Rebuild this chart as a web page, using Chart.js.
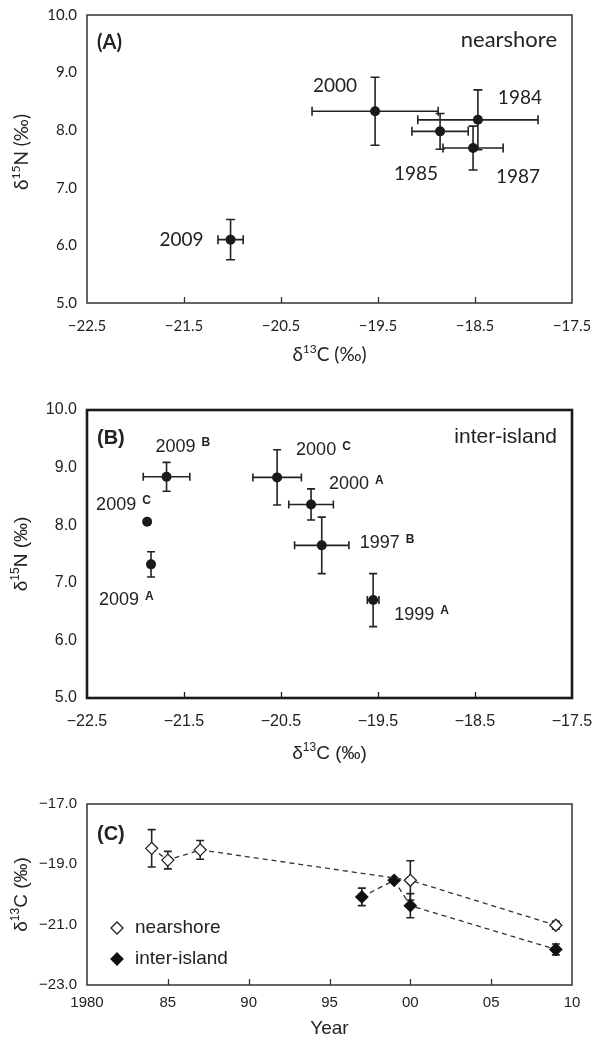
<!DOCTYPE html>
<html>
<head>
<meta charset="utf-8">
<title>Isotope panels</title>
<script src="https://cdn.jsdelivr.net/npm/chart.js@4.4.1/dist/chart.umd.min.js"></script>
<style>
  html, body { margin: 0; padding: 0; background: #fff; }
  .panel { position: absolute; left: 0; width: 598px; }
  #wrapA { top: 0; height: 375px; }
  #wrapB { top: 375px; height: 395px; }
  #wrapC { top: 770px; height: 273px; }
</style>
</head>
<body>
<div class="panel" id="wrapA"><canvas id="chartA"></canvas></div>
<div class="panel" id="wrapB"><canvas id="chartB"></canvas></div>
<div class="panel" id="wrapC"><canvas id="chartC"></canvas></div>

<script>
// (A) nearshore: d13C / d15N means with SD
const nsYears = [1984, 1985, 1987, 2000, 2009];
const nsC     = [-18.47, -18.86, -18.52, -19.53, -21.02];
const nsCErr  = [0.62, 0.29, 0.31, 0.65, 0.13];
const nsN     = [8.18, 7.98, 7.69, 8.33, 6.10];
const nsNErr  = [0.52, 0.31, 0.38, 0.59, 0.35];

// (B) inter-island, by year and site
const ibYears = ["2009", "2009", "2009", "2000", "2000", "1997", "1999"];
const ibSites = ["B", "C", "A", "C", "A", "B", "A"];
const ibC     = [-21.68, -21.88, -21.84, -20.54, -20.19, -20.08, -19.55];
const ibCErr  = [0.24, 0, 0, 0.25, 0.23, 0.28, 0.06];
const ibN     = [8.84, 8.06, 7.32, 8.83, 8.36, 7.65, 6.70];
const ibNErr  = [0.25, 0, 0.22, 0.48, 0.27, 0.49, 0.46];

// (C) d13C through time, inter-island pooled per year
const ibMeanYears = [1997, 1999, 2000, 2009];
const ibMeanC     = [-20.08, -19.53, -20.37, -21.82];
const ibMeanCErr  = [0.29, 0.05, 0.40, 0.18];

// tick labels
const isoTicks = [-22.5, -21.5, -20.5, -19.5, -18.5, -17.5];
const nTicks = [5, 6, 7, 8, 9, 10];
const cTicks = [-23, -21, -19, -17];
const yearTicks = [1980, 1985, 1990, 1995, 2000, 2005, 2010];
const yearTickLabels = ["1980", "85", "90", "95", "00", "05", "10"];

const ink = "#222";
const fontA = "Lato, 'Open Sans', sans-serif";
const fontB = "'Liberation Sans', Arial, sans-serif";

function fmtIso(v) {
    return (v < 0 ? "\u2212" : "") + Math.abs(v).toFixed(1);
}

function fixedTicks(values) {
    return scale => { scale.ticks = values.map(v => ({ value: v })); };
}

function drawRich(ctx, parts, x, y, font, supFont, rotated) {
    ctx.save();
    ctx.translate(x, y);
    if (rotated) ctx.rotate(-Math.PI / 2);
    ctx.textBaseline = "middle";
    ctx.textAlign = "left";
    let w = 0;
    parts.forEach(p => { ctx.font = p.sup ? supFont : font; w += ctx.measureText(p.t).width; });
    let cx = -w / 2;
    parts.forEach(p => {
        ctx.font = p.sup ? supFont : font;
        ctx.fillText(p.t, cx, p.sup ? -6 : 0);
        cx += ctx.measureText(p.t).width;
    });
    ctx.restore();
}

const errorBars = {
    id: "errorBars",
    beforeDatasetsDraw(chart) {
        const ctx = chart.ctx, xs = chart.scales.x, ys = chart.scales.y;
        chart.data.datasets.forEach(ds => {
            if (!ds.xErr && !ds.yErr) return;
            const cap = ds.capSize || 4.5;
            ctx.save();
            ctx.strokeStyle = ink;
            ctx.lineWidth = 1.6;
            ds.data.forEach((p, i) => {
                const px = xs.getPixelForValue(p.x), py = ys.getPixelForValue(p.y);
                const ex = ds.xErr ? ds.xErr[i] : 0, ey = ds.yErr ? ds.yErr[i] : 0;
                ctx.beginPath();
                if (ex > 0) {
                    const l = xs.getPixelForValue(p.x - ex), r = xs.getPixelForValue(p.x + ex);
                    ctx.moveTo(l, py); ctx.lineTo(r, py);
                    ctx.moveTo(l, py - cap); ctx.lineTo(l, py + cap);
                    ctx.moveTo(r, py - cap); ctx.lineTo(r, py + cap);
                }
                if (ey > 0) {
                    const t = ys.getPixelForValue(p.y + ey), b = ys.getPixelForValue(p.y - ey);
                    ctx.moveTo(px, t); ctx.lineTo(px, b);
                    ctx.moveTo(px - cap, t); ctx.lineTo(px + cap, t);
                    ctx.moveTo(px - cap, b); ctx.lineTo(px + cap, b);
                }
                ctx.stroke();
            });
            ctx.restore();
        });
    }
};

// box around the plot, inward ticks on the x axis, titles and tags
const decor = {
    id: "decor",
    afterDatasetsDraw(chart, args, o) {
        const ctx = chart.ctx, a = chart.chartArea, xs = chart.scales.x;
        ctx.save();
        ctx.strokeStyle = o.frameColor;
        ctx.lineWidth = o.frameWidth;
        ctx.strokeRect(a.left, a.top, a.right - a.left, a.bottom - a.top);
        ctx.lineWidth = 1.3;
        ctx.beginPath();
        xs.ticks.forEach((t, i) => {
            if (i === 0 || i === xs.ticks.length - 1) return;
            const px = Math.round(xs.getPixelForValue(t.value)) + 0.5;
            ctx.moveTo(px, a.bottom);
            ctx.lineTo(px, a.bottom - 6);
        });
        ctx.stroke();

        ctx.fillStyle = ink;
        ctx.textBaseline = "middle";
        ctx.textAlign = "left";
        ctx.font = o.tagFont;
        ctx.fillText(o.tag, a.left + 10, a.top + o.tagDy);
        if (o.corner) {
            ctx.textAlign = "right";
            ctx.font = o.cornerFont;
            ctx.fillText(o.corner, a.right - 15, a.top + o.cornerDy);
        }
        const midX = (a.left + a.right) / 2;
        drawRich(ctx, o.xTitle, midX, a.bottom + o.xTitleDy, o.titleFont, o.supFont, false);
        drawRich(ctx, o.yTitle, 22, (a.top + a.bottom) / 2 + o.yTitleDy, o.titleFont, o.supFont, true);

        if (o.legend) {
            o.legend.forEach((item, k) => {
                const ds = chart.data.datasets[item.index];
                const y = a.top + o.legendTop + k * o.legendStep;
                const x = a.left + 30;
                ctx.beginPath();
                ctx.moveTo(x - 6, y); ctx.lineTo(x, y - 6); ctx.lineTo(x + 6, y); ctx.lineTo(x, y + 6);
                ctx.closePath();
                ctx.fillStyle = ds.pointBackgroundColor;
                ctx.fill();
                ctx.lineWidth = 1.3;
                ctx.strokeStyle = ds.pointBorderColor;
                ctx.stroke();
                ctx.fillStyle = ink;
                ctx.textAlign = "left";
                ctx.font = o.titleFont;
                ctx.fillText(item.label, x + 18, y);
            });
        }
        ctx.restore();
    }
};

const pointLabels = {
    id: "pointLabels",
    afterDatasetsDraw(chart, args, o) {
        if (!o.texts) return;
        const ctx = chart.ctx, pts = chart.getDatasetMeta(0).data;
        ctx.save();
        ctx.fillStyle = ink;
        ctx.textBaseline = "middle";
        o.texts.forEach((t, i) => {
            const x = pts[i].x + o.offsets[i][0], y = pts[i].y + o.offsets[i][1];
            ctx.font = o.font;
            ctx.textAlign = "center";
            ctx.fillText(String(t), x, y);
            if (o.sups) {
                const w = ctx.measureText(String(t)).width;
                ctx.font = o.supFont;
                ctx.textAlign = "left";
                ctx.fillText(o.sups[i], x + w / 2 + 6, y - 4);
            }
        });
        ctx.restore();
    }
};

function scales(o) {
    return {
        x: {
            type: "linear", min: o.xMin, max: o.xMax,
            grid: { display: false, drawTicks: false }, border: { display: false },
            afterBuildTicks: fixedTicks(o.xTicks),
            afterFit: s => { s.height = o.xHeight; s.paddingLeft = 0; s.paddingRight = 0; },
            ticks: {
                autoSkip: false, maxRotation: 0, padding: o.xPad, color: ink,
                font: { family: o.family, size: o.xSize }, callback: o.xFmt
            }
        },
        y: {
            type: "linear", min: o.yMin, max: o.yMax,
            grid: { display: false, drawTicks: false }, border: { display: false },
            afterBuildTicks: fixedTicks(o.yTicks),
            afterFit: s => { s.width = 87; s.paddingTop = 0; s.paddingBottom = 0; },
            ticks: {
                autoSkip: false, padding: 10, color: ink,
                font: { family: o.family, size: o.ySize }, callback: o.yFmt
            }
        }
    };
}

const common = {
    responsive: true,
    maintainAspectRatio: false,
    animation: false,
    events: [],
    plugins: { legend: { display: false }, tooltip: { enabled: false } }
};

const deltaC = [{ t: "\u03b4" }, { t: "13", sup: true }, { t: "C (\u2030)" }];
const deltaN = [{ t: "\u03b4" }, { t: "15", sup: true }, { t: "N (\u2030)" }];

// panel A
new Chart(document.getElementById("chartA"), {
    type: "scatter",
    data: {
        datasets: [{
            data: nsC.map((c, i) => ({ x: c, y: nsN[i] })),
            xErr: nsCErr, yErr: nsNErr,
            pointRadius: 5, pointBackgroundColor: "#1a1a1a", pointBorderWidth: 0
        }]
    },
    options: {
        ...common,
        layout: { padding: { top: 15, right: 26, left: 0, bottom: 0 } },
        scales: scales({
            xMin: -22.5, xMax: -17.5, xTicks: isoTicks, xHeight: 72, xPad: 14, xSize: 15, xFmt: fmtIso,
            yMin: 5, yMax: 10, yTicks: nTicks, ySize: 15, yFmt: v => v.toFixed(1), family: fontA
        }),
        plugins: {
            ...common.plugins,
            decor: {
                frameColor: "#333", frameWidth: 1.5,
                tag: "(A)", tagFont: "bold 20px " + fontA, tagDy: 28,
                corner: "nearshore", cornerFont: "22px " + fontA, cornerDy: 25,
                xTitle: deltaC, yTitle: deltaN, xTitleDy: 52, yTitleDy: -7,
                titleFont: "19px " + fontA, supFont: "12px " + fontA
            },
            pointLabels: {
                texts: nsYears, font: "19px " + fontA,
                offsets: [[42, -22], [-24, 43], [45, 29], [-40, -25], [-49, 0]]
            }
        }
    },
    plugins: [errorBars, decor, pointLabels]
});

// panel B
new Chart(document.getElementById("chartB"), {
    type: "scatter",
    data: {
        datasets: [{
            data: ibC.map((c, i) => ({ x: c, y: ibN[i] })),
            xErr: ibCErr, yErr: ibNErr, capSize: 4,
            pointRadius: 5, pointBackgroundColor: "#1a1a1a", pointBorderWidth: 0
        }]
    },
    options: {
        ...common,
        layout: { padding: { top: 35, right: 26, left: 0, bottom: 0 } },
        scales: scales({
            xMin: -22.5, xMax: -17.5, xTicks: isoTicks, xHeight: 72, xPad: 14, xSize: 16, xFmt: fmtIso,
            yMin: 5, yMax: 10, yTicks: nTicks, ySize: 16, yFmt: v => v.toFixed(1), family: fontB
        }),
        plugins: {
            ...common.plugins,
            decor: {
                frameColor: "#1a1a1a", frameWidth: 2.6,
                tag: "(B)", tagFont: "bold 20px " + fontB, tagDy: 28,
                corner: "inter-island", cornerFont: "21px " + fontB, cornerDy: 27,
                xTitle: deltaC, yTitle: deltaN, xTitleDy: 56, yTitleDy: 0,
                titleFont: "19px " + fontB, supFont: "12px " + fontB
            },
            pointLabels: {
                texts: ibYears, sups: ibSites,
                font: "18px " + fontB, supFont: "bold 12px " + fontB,
                offsets: [[9, -30], [-31, -17], [-32, 36], [39, -27], [38, -20], [58, -2], [41, 15]]
            }
        }
    },
    plugins: [errorBars, decor, pointLabels]
});

// panel C
new Chart(document.getElementById("chartC"), {
    type: "scatter",
    data: {
        datasets: [{
            data: nsYears.map((y, i) => ({ x: y, y: nsC[i] })),
            yErr: nsCErr, capSize: 4,
            showLine: true, borderColor: "#333", borderWidth: 1.3, borderDash: [5, 4],
            pointStyle: "rectRot", pointRadius: 6,
            pointBackgroundColor: "#fff", pointBorderColor: "#222", pointBorderWidth: 1.3
        }, {
            data: ibMeanYears.map((y, i) => ({ x: y, y: ibMeanC[i] })),
            yErr: ibMeanCErr, capSize: 4,
            showLine: true, borderColor: "#333", borderWidth: 1.3, borderDash: [5, 4],
            pointStyle: "rectRot", pointRadius: 6,
            pointBackgroundColor: "#111", pointBorderColor: "#111", pointBorderWidth: 1.3
        }]
    },
    options: {
        ...common,
        layout: { padding: { top: 34, right: 26, left: 0, bottom: 0 } },
        scales: scales({
            xMin: 1980, xMax: 2010, xTicks: yearTicks, xHeight: 58, xPad: 9, xSize: 15,
            xFmt: v => yearTickLabels[yearTicks.indexOf(v)],
            yMin: -23, yMax: -17, yTicks: cTicks, ySize: 15, yFmt: fmtIso, family: fontB
        }),
        plugins: {
            ...common.plugins,
            decor: {
                frameColor: "#333", frameWidth: 1.5,
                tag: "(C)", tagFont: "bold 20px " + fontB, tagDy: 30,
                xTitle: [{ t: "Year" }], yTitle: deltaC, xTitleDy: 44, yTitleDy: 0,
                titleFont: "19px " + fontB, supFont: "12px " + fontB,
                legend: [{ label: "nearshore", index: 0 }, { label: "inter-island", index: 1 }],
                legendTop: 124, legendStep: 31
            }
        }
    },
    plugins: [errorBars, decor]
});
</script>
</body>
</html>
